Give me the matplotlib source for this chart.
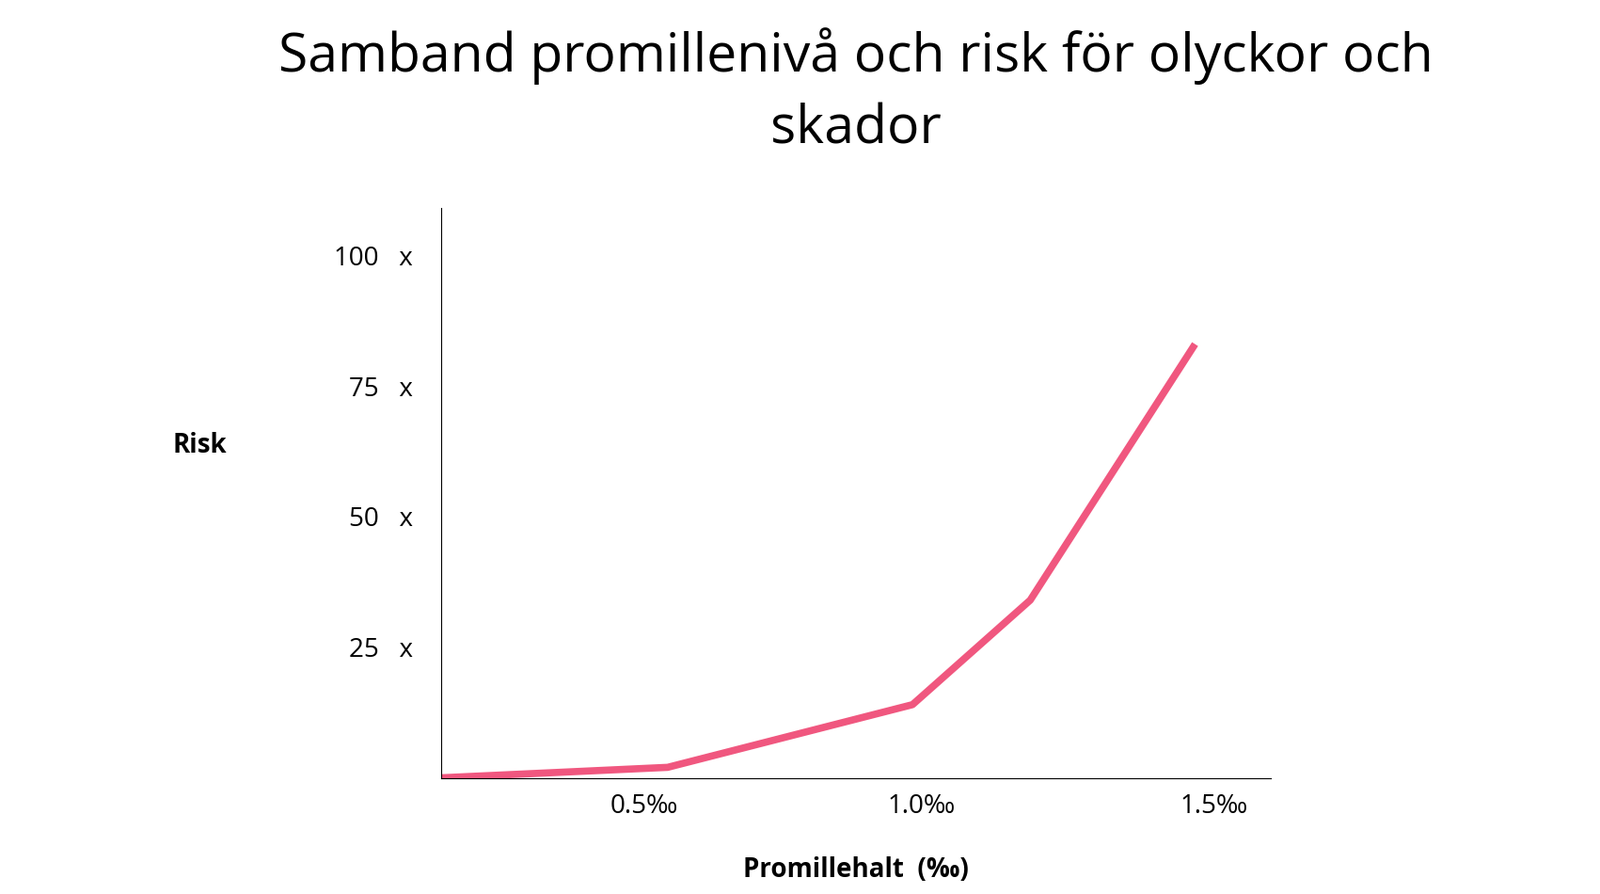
import matplotlib
matplotlib.use("Agg")
import matplotlib.pyplot as plt

promille = [0.0, 0.48, 1.0, 1.25, 1.6]
risk = [0, 2, 14, 34, 83]
ytick_vals = [25, 50, 75, 100]
ytick_labels = ["25   x", "50   x", "75   x", "100   x"]
xtick_pos = [0.43, 1.02, 1.64]
xtick_labels = ["0.5‰", "1.0‰", "1.5‰"]

plt.rcParams["font.family"] = "Open Sans"
fig = plt.figure(figsize=(17.01, 9.5), dpi=100)
ax = fig.add_axes([0.276, 0.130, 0.518, 0.637])
ax.plot(promille, risk, color="#F0577F", lw=5.5, solid_capstyle="butt")
ax.set_xlim(0, 1.76)
ax.set_ylim(0, 109)
for s in ["top", "right"]:
    ax.spines[s].set_visible(False)
ax.set_yticks(ytick_vals)
ax.set_yticklabels(ytick_labels, fontsize=20)
ax.set_xticks(xtick_pos)
ax.set_xticklabels(xtick_labels, fontsize=20)
ax.tick_params(length=0, pad=12)
ax.tick_params(axis="y", pad=22)
ax.set_xlabel("Promillehalt  (‰)", fontsize=20, fontweight="bold", labelpad=28)
fig.text(0.108, 0.502, "Risk", fontsize=20, fontweight="bold", va="center")
fig.text(0.535, 0.897, "Samband promillenivå och risk för olyckor och\nskador",
         ha="center", va="center", fontsize=41, linespacing=1.45)
fig.savefig("out.png", dpi=100, facecolor="white")
